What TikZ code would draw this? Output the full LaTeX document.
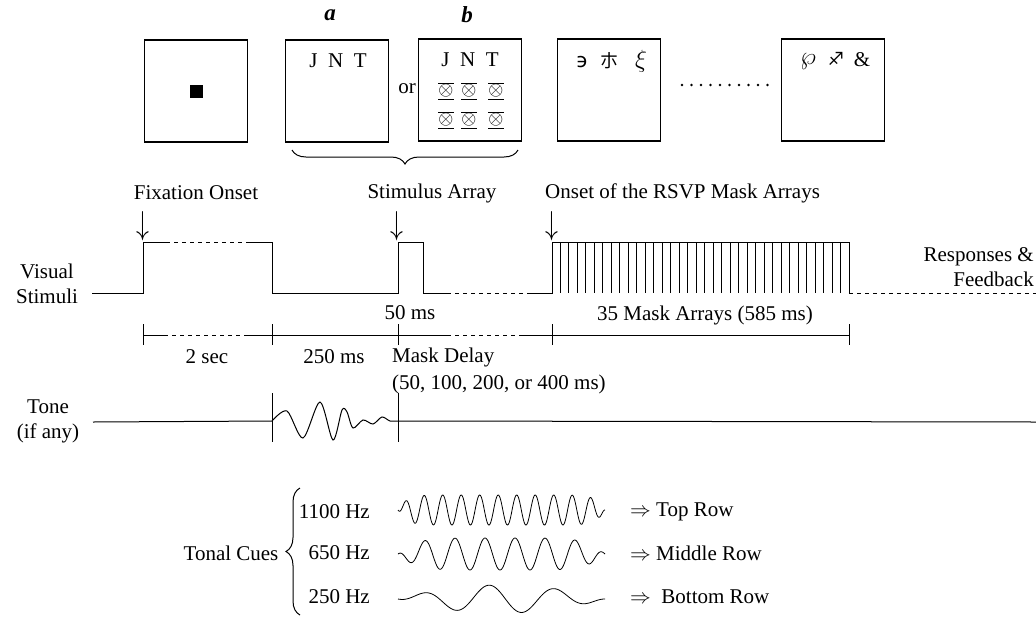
\documentclass[tikz,border=0pt]{standalone}
\usepackage{fontspec}
\setmainfont{Liberation Serif}
\newfontfamily\symfont{DejaVu Sans}
\newfontfamily\cjkfont{Noto Sans CJK SC}
\usetikzlibrary{positioning,decorations.pathreplacing}
\newcommand{\maskglyph}{\scalebox{1.12}{$\overline{\underline{\otimes}}$}}
\newcommand{\onsetdown}{\scalebox{1.25}[1.6]{$\downarrow$}}

\begin{document}
\begin{tikzpicture}[x=1pt, y=-1pt,
font=\fontsize{21}{25}\selectfont,
frame/.style={draw, line width=1.2pt, minimum width=103pt, minimum height=102pt, inner sep=0pt},
lbl/.style={inner sep=0pt},
glyph/.style={inner sep=0pt, font=\fontsize{17}{17}\selectfont},
onsetarr/.style={inner sep=0pt},
trace/.style={line width=1pt},
dashtrace/.style={line width=1pt, dash pattern=on 4pt off 4pt},
tickline/.style={line width=1pt},
wave/.style={line width=0.8pt},
curly/.style={decorate, decoration={brace, amplitude=14pt}, line width=1pt},
declare function={env(\t,\n)=1-((2*\t-1)*(2*\t-1))^\n;}
]
\useasboundingbox (0,0) rectangle (1036,619);

% stimulus frames
\node[frame] (fixbox) at (196,91) {};
\node[frame] (stimA) at (337,91) {};
\node[frame] (stimB) at (470,90) {};
\node[frame] (maskA) at (609,90) {};
\node[frame] (maskN) at (833,90) {};

\node[draw, fill=black, minimum size=12pt, inner sep=0pt] (fixdot) at (fixbox.center) {};
\node[lbl, font=\fontsize{23}{23}\selectfont\bfseries\itshape] (alab) at (330,15) {a};
\node[lbl, font=\fontsize{23}{23}\selectfont\bfseries\itshape] (blab) at (467,15) {b};
\node[lbl] (orlab) at (407,89) {or};

\node[lbl] (jntA) at (338,61) {J\enspace N\enspace T};
\node[lbl] (jntB) at (470,60) {J\enspace N\enspace T};
\foreach \cx [count=\i] in {446,469,496} {
  \node[glyph] (crossA\i) at (\cx,91) {\maskglyph};
  \node[glyph] (crossB\i) at (\cx,120) {\maskglyph};
}

\node[lbl, font=\symfont\fontsize{20}{20}\selectfont] (symA1) at (582,62) {϶};
\node[lbl, font=\cjkfont\fontsize{18}{18}\selectfont] (symA2) at (609,61) {朩};
\node[lbl] (symA3) at (641,61) {\scalebox{1.2}{$\xi$}};
\node[lbl] (symN1) at (808,62) {\scalebox{1.2}{$\wp$}};
\node[lbl, font=\symfont\fontsize{18}{18}\selectfont] (symN2) at (836,59) {♐};
\node[lbl] (symN3) at (862,60) {\&};

\foreach \k in {0,...,9}
  \fill (682+\k*9.5,85) circle (1.4pt);

\draw[curly] (518,150) -- (292,150);

% visual stimuli trace
\node[lbl, align=center] (vislab) at (47,284) {Visual\\Stimuli};
\node[lbl] (fixlab) at (196,193) {Fixation Onset};
\node[onsetarr] (fixarr) at (143,226) {\onsetdown};
\node[lbl] (stimlab) at (432,193) {Stimulus Array};
\node[onsetarr] (stimarr) at (397,226) {\onsetdown};
\node[lbl, anchor=west] (rsvplab) at (545,193) {Onset of the RSVP Mask Arrays};
\node[onsetarr] (rsvparr) at (552,226) {\onsetdown};
\node[lbl, align=right, anchor=east] (resplab) at (1034,267) {Responses \&\\Feedback};

\draw[trace] (92,293) -- (143,293) -- (143,242) -- (166,242);
\draw[dashtrace] (166,242) -- (246,242);
\draw[trace] (246,242) -- (272,242) -- (272,293) -- (398,293) -- (398,242) -- (423,242) -- (423,293) -- (447,293);
\draw[dashtrace] (447,293) -- (528,293);
\draw[trace] (528,293) -- (552,293) -- (552,242) -- (849,242) -- (849,293);
\foreach \k in {1,...,34}
  \draw[trace] ({552+\k*297/35},242) -- ++(0,51);
\draw[dashtrace] (849,293) -- (1036,293);

\node[lbl] (durstim) at (410,313) {50 ms};
\node[lbl] (durmask) at (705,315) {35 Mask Arrays (585 ms)};

% time scale
\draw[tickline] (143,335) -- (164,335);
\draw[dashtrace] (164,335) -- (247,335);
\draw[tickline] (247,335) -- (447,335);
\draw[dashtrace] (447,335) -- (520,335);
\draw[tickline] (520,335) -- (849,335);
\foreach \tx in {143,272,398,552,849}
  \draw[tickline] (\tx,324) -- (\tx,345);

\node[lbl] (fixdur) at (207,357) {2 sec};
\node[lbl] (gapdur) at (334,357) {250 ms};
\node[lbl, anchor=west] (mdelay) at (392,357) {Mask Delay};
\node[lbl, below=8pt of mdelay.south west, anchor=north west] (mdrange) {(50, 100, 200, or 400 ms)};

% tone
\node[lbl, align=center] (tonelab) at (48,421) {Tone\\(if any)};
\draw[trace] (93,422) -- (272,421);
\draw[trace] plot[smooth] coordinates {(272,421) (287,411) (303,438) (320,402) (333,440) (342,410) (347,412) (353,428) (363,420) (373,424) (382,417) (390,421) (398,421)};
\draw[trace] (398,421) -- (1036,422);
\draw[line width=0.8pt] (272,393) -- (272,442);
\draw[line width=0.8pt] (398,393) -- (398,442);

% tonal cues
\node[lbl] (cuelab) at (231,553) {Tonal Cues};
\draw[curly] (300,615) -- (300,488);
\node[lbl, anchor=east] (hz1100) at (370,512) {1100 Hz};
\node[lbl, anchor=east] (hz650) at (370,553) {650 Hz};
\node[lbl, anchor=east] (hz250) at (370,597) {250 Hz};

\draw[wave] plot[domain=0:207, samples=400] ({398+\x}, {510-15*env(\x/207,6)*sin(360*(\x/18.5)-60)});
\draw[wave] plot[domain=0:207, samples=300] ({398+\x}, {554-16*env(\x/207,3)*sin(360*(\x/30)+126)});
\draw[wave] plot[domain=0:207, samples=200] ({398+\x}, {599-14*env(\x/207,1)*sin(360*(\x/66)-46)});

\node[lbl, anchor=west] (toprow) at (630,512) {$\Rightarrow$ Top Row};
\node[lbl, anchor=west] (midrow) at (630,553) {$\Rightarrow$ Middle Row};
\node[lbl, anchor=west] (botrow) at (630,597) {$\Rightarrow$\ \ Bottom Row};
\end{tikzpicture}
\end{document}
